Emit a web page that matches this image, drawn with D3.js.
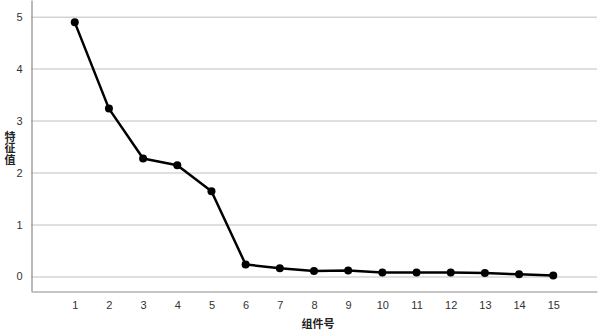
<!DOCTYPE html>
<html lang="zh">
<head>
    <meta charset="UTF-8">
    <title>碎石图</title>
    <script src="https://d3js.org/d3.v7.min.js"></script>
    <style>
        body { margin: 0; background: #fff; }
        text { font-family: 'Liberation Sans', Arial, sans-serif; }
        .title { font-family: 'Noto Sans CJK SC', sans-serif; font-weight: bold; font-size: 11px; fill: #222; }
    </style>
</head>
<body>
<div id="chart"></div>
<script>
    // component numbers and eigenvalues
    const components = [1, 2, 3, 4, 5, 6, 7, 8, 9, 10, 11, 12, 13, 14, 15];
    const eigenvalues = [4.89, 3.23, 2.27, 2.14, 1.64, 0.23, 0.16, 0.105, 0.115, 0.075, 0.075, 0.075, 0.065, 0.04, 0.02];
    const yTicks = [0, 1, 2, 3, 4, 5];

    const W = 600, H = 331;
    const plot = {left: 31, right: 597, top: 0, bottom: 291};

    const svg = d3.select("#chart").append("svg")
        .attr("width", W)
        .attr("height", H);

    const x = d3.scalePoint()
        .domain(components)
        .range([plot.left, plot.right])
        .padding(1.28);

    const y = d3.scaleLinear()
        .domain([-0.28, 5.32])
        .range([plot.bottom, plot.top]);

    // grid lines
    svg.append("g")
        .selectAll("line")
        .data(yTicks)
        .join("line")
            .attr("x1", plot.left)
            .attr("x2", plot.right)
            .attr("y1", d => y(d) + 0.5)
            .attr("y2", d => y(d) + 0.5)
            .attr("stroke", "#d4d4d4")
            .attr("stroke-width", 1.5);

    // y axis
    const yAxis = svg.append("g")
        .attr("transform", `translate(${plot.left + 0.5},0)`)
        .call(d3.axisLeft(y).tickValues(yTicks).tickFormat(d3.format("d")).tickSize(0).tickPadding(9));
    yAxis.select(".domain").attr("stroke", "#8c8c8c").attr("stroke-width", 1.2);
    yAxis.selectAll("text").attr("font-size", 11).attr("fill", "#333");

    // x axis
    const xAxis = svg.append("g")
        .attr("transform", `translate(0,${plot.bottom + 0.5})`)
        .call(d3.axisBottom(x).tickSize(0).tickPadding(10));
    xAxis.select(".domain").attr("stroke", "#8c8c8c").attr("stroke-width", 1.2);
    xAxis.selectAll("text").attr("font-size", 11).attr("fill", "#333");

    // line
    const pts = components.map((c, i) => [c, eigenvalues[i]]);
    svg.append("path")
        .datum(pts)
        .attr("fill", "none")
        .attr("stroke", "#000")
        .attr("stroke-width", 2.5)
        .attr("stroke-linejoin", "round")
        .attr("d", d3.line().x(d => x(d[0])).y(d => y(d[1])));

    svg.append("g")
        .selectAll("circle")
        .data(pts)
        .join("circle")
            .attr("cx", d => x(d[0]))
            .attr("cy", d => y(d[1]))
            .attr("r", 4)
            .attr("fill", "#000");

    // axis titles (y title written vertically, upright glyphs)
    svg.append("text")
        .attr("class", "title")
        .attr("x", 10)
        .attr("y", 131)
        .style("writing-mode", "vertical-rl")
        .style("text-orientation", "upright")
        .style("letter-spacing", "0.5px")
        .text("特征值");

    svg.append("text")
        .attr("class", "title")
        .attr("x", (plot.left + plot.right) / 2 + 4)
        .attr("y", 328)
        .attr("text-anchor", "middle")
        .text("组件号");
</script>
</body>
</html>
